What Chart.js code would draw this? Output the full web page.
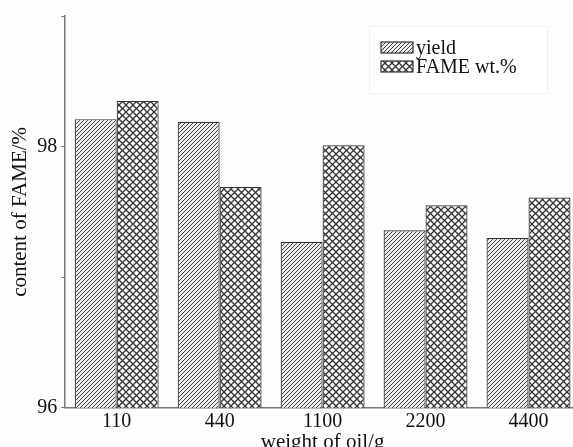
<!DOCTYPE html>
<html lang="en">
  <head>
    <meta charset="UTF-8" />
    <title>content of FAME vs weight of oil</title>
    <script src="https://cdn.jsdelivr.net/npm/chart.js@4.4.1/dist/chart.umd.min.js"></script>
    <style>
      html, body { margin: 0; padding: 0; overflow: hidden; background: #fdfdfd; }
    </style>
  </head>
  <body>
    <canvas id="chart" width="580" height="455"></canvas>
    <script>
    // values
    const categories = ['110', '440', '1100', '2200', '4400'];
    const seriesNames = ['yield', 'FAME wt.%'];
    const yieldValues = [98.21, 98.19, 97.27, 97.36, 97.30];
    const fameValues = [98.35, 97.69, 98.01, 97.55, 97.61];
    const labelledTicks = [96, 98];

    const serif = '"Liberation Serif", "DejaVu Serif", serif';

    // diagonal hatching  ////
    function hatchPattern() {
      const c = document.createElement('canvas');
      c.width = c.height = 4;
      const x = c.getContext('2d');
      x.fillStyle = '#ececec';
      x.fillRect(0, 0, 4, 4);
      x.strokeStyle = '#444';
      x.lineWidth = 1;
      x.beginPath();
      x.moveTo(0, 4); x.lineTo(4, 0);
      x.moveTo(-1, 1); x.lineTo(1, -1);
      x.moveTo(3, 5); x.lineTo(5, 3);
      x.stroke();
      return x.createPattern(c, 'repeat');
    }

    // cross hatching  XXXX
    function crossPattern() {
      const s = 7;
      const c = document.createElement('canvas');
      c.width = c.height = s;
      const x = c.getContext('2d');
      x.fillStyle = '#ffffff';
      x.fillRect(0, 0, s, s);
      x.strokeStyle = '#333';
      x.lineWidth = 1.3;
      x.beginPath();
      x.moveTo(0, 0); x.lineTo(s, s);
      x.moveTo(0, s); x.lineTo(s, 0);
      x.stroke();
      return x.createPattern(c, 'repeat');
    }

    const fills = [hatchPattern(), crossPattern()];

    // legend box drawn inside the plot
    const boxLegend = {
      id: 'boxLegend',
      afterDraw(chart) {
        const ctx = chart.ctx;
        ctx.save();
        ctx.fillStyle = '#ffffff';
        ctx.fillRect(369, 26, 178, 67);
        ctx.strokeStyle = '#f0f0f0';
        ctx.lineWidth = 1;
        ctx.strokeRect(369.5, 26.5, 178, 67);
        ctx.font = '20px ' + serif;
        ctx.textBaseline = 'alphabetic';
        chart.data.datasets.forEach((ds, i) => {
          const y = 42 + i * 19;
          ctx.fillStyle = ds.backgroundColor;
          ctx.fillRect(381, y, 32, 11);
          ctx.strokeStyle = '#333';
          ctx.lineWidth = 1.2;
          ctx.strokeRect(381, y, 32, 11);
          ctx.fillStyle = '#111';
          ctx.fillText(ds.label, 416, y + 12);
        });
        ctx.restore();
      }
    };

    const ctx = document.getElementById('chart').getContext('2d');
    const myChart = new Chart(ctx, {
      type: 'bar',
      data: {
        labels: categories,
        datasets: [{
          label: seriesNames[0],
          data: yieldValues,
          backgroundColor: fills[0],
          borderColor: '#333',
          borderWidth: 1.2,
          borderSkipped: 'bottom'
        }, {
          label: seriesNames[1],
          data: fameValues,
          backgroundColor: fills[1],
          borderColor: '#333',
          borderWidth: 1.2,
          borderSkipped: 'bottom'
        }]
      },
      options: {
        responsive: false,
        animation: false,
        categoryPercentage: 0.815,
        barPercentage: 1,
        layout: { padding: { top: 6, right: 0, left: 8, bottom: 0 } },
        plugins: {
          legend: { display: false },
          tooltip: { enabled: false }
        },
        scales: {
          x: {
            grid: { display: false },
            border: { display: true, color: '#777', width: 1.5 },
            ticks: { color: '#111', font: { family: serif, size: 20 }, padding: -6 },
            title: {
              display: true,
              text: 'weight of oil/g',
              color: '#111',
              font: { family: serif, size: 21 },
              padding: { top: 2, bottom: 0 }
            }
          },
          y: {
            min: 96,
            max: 99,
            ticks: {
              stepSize: 1,
              color: '#111',
              font: { family: serif, size: 20 },
              padding: 4,
              callback: v => labelledTicks.includes(v) ? String(v) : ''
            },
            grid: { drawOnChartArea: false, tickLength: 4, color: '#777' },
            border: { display: true, color: '#777', width: 1.5 },
            title: {
              display: true,
              text: 'content of FAME/%',
              color: '#111',
              font: { family: serif, size: 21 },
              padding: { top: 0, bottom: 0 }
            }
          }
        }
      },
      plugins: [boxLegend]
    });
    </script>
  </body>
</html>
